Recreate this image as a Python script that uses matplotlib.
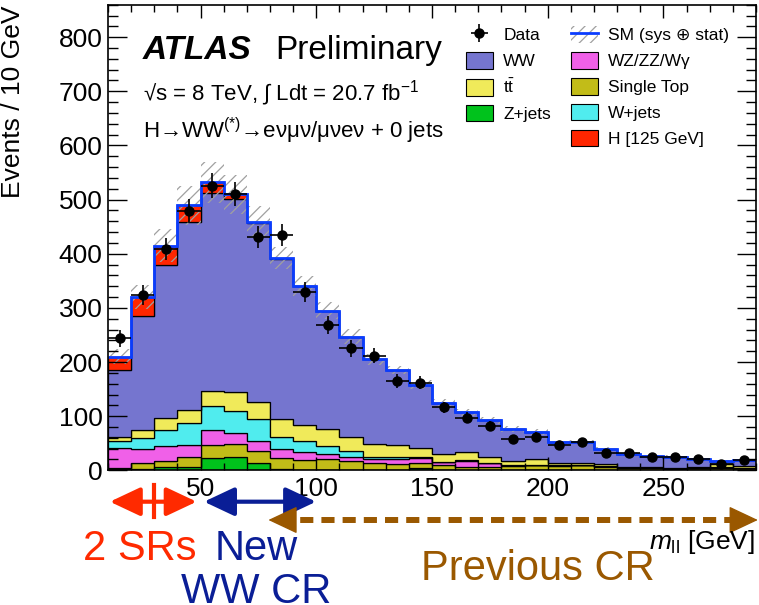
import numpy as np
import matplotlib
matplotlib.use("Agg")
import matplotlib.pyplot as plt
from matplotlib.patches import Patch
from matplotlib.lines import Line2D
from matplotlib.transforms import blended_transform_factory

plt.rcParams['font.family'] = ['Liberation Sans', 'DejaVu Sans']
plt.rcParams['mathtext.fontset'] = 'custom'
plt.rcParams['mathtext.rm'] = 'Liberation Sans'
plt.rcParams['mathtext.it'] = 'Liberation Sans:italic'
plt.rcParams['mathtext.bf'] = 'Liberation Sans:bold'
plt.rcParams['hatch.linewidth'] = 0.9

# m_ll binning: 10 GeV bins from 10 to 290 GeV
edges = np.arange(10, 300, 10)
centers = edges[:-1] + 5

# stacked expectations per bin (events / 10 GeV)
zjets = [2, 3, 6, 6, 22, 25, 14, 3, 1, 1, 0, 0, 0, 4, 1, 1, 0, 0, 0, 0, 0, 0, 0, 0, 0, 0, 0, 0]
single_top = [3, 10, 11, 19, 24, 23, 22, 19, 18, 19, 17, 14, 12, 9, 9, 6, 7, 8, 9, 8, 9, 7, 5, 5, 3, 4, 5, 4]
diboson = [37, 26, 27, 21, 29, 21, 19, 17, 15, 11, 8, 6, 8, 9, 5, 11, 6, 1, 1, 1, 1, 1, 1, 1, 1, 1, 1, 1]
wjets = [13, 20, 30, 41, 43, 41, 39, 22, 21, 14, 11, 5, 4, 3, 1, 1, 1, 0, 0, 0, 0, 0, 0, 0, 0, 0, 0, 0]
ttbar = [7, 15, 22, 25, 28, 34, 32, 33, 29, 31, 25, 23, 23, 17, 15, 14, 10, 8, 10, 4, 3, 4, 1, 1, 1, 2, 6, 3]
ww = [124, 211, 284, 347, 367, 357, 331, 297, 256, 219, 186, 157, 138, 116, 93, 74, 68, 59, 51, 39, 39, 28, 23, 19, 20, 13, 5, 11]
higgs = [24, 35, 35, 31, 19, 9, 2, 1, 0, 0, 0, 0, 0, 0, 0, 0, 0, 0, 0, 0, 0, 0, 0, 0, 0, 0, 0, 0]
sm_err = [14, 22, 31, 36, 38, 36, 30, 20, 18, 15, 14, 10, 8, 8, 7, 7, 6, 5, 5, 4, 4, 3, 3, 3, 3, 2, 2, 2]

data = [244, 324, 409, 479, 526, 510, 431, 435, 329, 268, 225, 212, 165, 162,
        116, 97, 82, 58, 62, 46, 53, 32, 32, 24, 24, 20, 11, 19]

TT = r't$\bar{\rm t}$'
DIB = 'WZ/ZZ/W\u03b3'
layers = [
    ('Z+jets', zjets, '#00c21c'),
    ('Single Top', single_top, '#c2bc18'),
    (DIB, diboson, '#f060e8'),
    ('W+jets', wjets, '#50ecee'),
    (TT, ttbar, '#f0ea5a'),
    ('WW', ww, '#7575cf'),
    ('H [125 GeV]', higgs, '#ff2600'),
]
SM_BLUE = '#0a3cff'

W, H = 759, 605


def px(x, y):
    """Pixel position (from top-left) to figure fraction."""
    return x / W, 1 - y / H


fig = plt.figure(figsize=(W / 100, H / 100), dpi=100)
ax = fig.add_axes([108 / W, 1 - 470.3 / H, 648 / W, 465.6 / H])

# stacked histograms
bottom = np.zeros(len(centers))
handles = {}
for name, vals, col in layers:
    top = bottom + np.array(vals, dtype=float)
    ax.stairs(top, edges, baseline=bottom, fill=True, facecolor=col,
              edgecolor='black', linewidth=0.9)
    handles[name] = Patch(facecolor=col, edgecolor='black', linewidth=0.8)
    bottom = top
total = bottom

# SM uncertainty band and total line
err = np.array(sm_err, dtype=float)
ax.stairs(total + err, edges, baseline=total - err, fill=True,
          facecolor='none', edgecolor='#a0a0a0', hatch='///', linewidth=0)
ax.stairs(total, edges, baseline=None, color=SM_BLUE, linewidth=2.0)

# data points with Poisson errors
data_arr = np.array(data, dtype=float)
eb = ax.errorbar(centers, data_arr, xerr=5, yerr=np.sqrt(data_arr), fmt='o',
                 color='black', ms=6.5, elinewidth=1.2, capsize=0, zorder=5)

ax.set_xlim(10, 290)
ax.set_ylim(0, 860)
ax.set_xticks([50, 100, 150, 200, 250])
ax.set_xticks(np.arange(10, 291, 10), minor=True)
ax.set_yticks(np.arange(0, 801, 100))
ax.set_yticks(np.arange(0, 861, 20), minor=True)
ax.tick_params(axis='both', which='both', direction='in', top=True, right=True,
               width=1.0, labelsize=19)
ax.tick_params(axis='y', which='major', length=14, pad=4)
ax.tick_params(axis='y', which='minor', length=7)
ax.tick_params(axis='x', which='major', length=9.5, pad=5)
ax.tick_params(axis='x', which='minor', length=5)
for s in ax.spines.values():
    s.set_linewidth(1.2)

fig.text(*px(13, 6), 'Events / 10 GeV', rotation=90, ha='center', va='top',
         fontsize=19)
fig.text(*px(755, 549), r'$m_{\rm ll}$ [GeV]', ha='right', va='baseline',
         fontsize=19)

# ATLAS label and run conditions
fig.text(*px(143, 59), 'ATLAS', fontsize=24, fontweight='bold', style='italic',
         va='baseline')
fig.text(*px(275, 59), 'Preliminary', fontsize=24, va='baseline')
fig.text(*px(143, 100), '\u221as = 8 TeV, \u222b Ldt = 20.7 fb$^{-1}$',
         fontsize=16, va='baseline')
fig.text(*px(143, 138),
         'H\u2192WW$^{(*)}$\u2192e\u03bd\u03bc\u03bd/\u03bc\u03bde\u03bd + 0 jets',
         fontsize=16, va='baseline')

# legend, two columns
sm_handle = (Patch(facecolor='white', edgecolor='#a0a0a0', hatch='///', linewidth=0),
             Line2D([], [], color=SM_BLUE, linewidth=2))
leg_kw = dict(frameon=False, fontsize=12.5, handlelength=1.55, handleheight=1.1,
              labelspacing=0.5, handletextpad=0.6, borderpad=0, borderaxespad=0,
              loc='upper left', bbox_transform=fig.transFigure)
leg1 = ax.legend([eb, handles['WW'], handles[TT], handles['Z+jets']],
                 ['Data', 'WW', TT, 'Z+jets'],
                 bbox_to_anchor=px(466, 26), **leg_kw)
ax.add_artist(leg1)
ax.legend([sm_handle, handles[DIB], handles['Single Top'],
           handles['W+jets'], handles['H [125 GeV]']],
          ['SM (sys \u2295 stat)', DIB, 'Single Top', 'W+jets', 'H [125 GeV]'],
          bbox_to_anchor=px(571, 26), **leg_kw)

# region annotations below the axis
blend = blended_transform_factory(ax.transData, fig.transFigure)
y_reg = 1 - 501.7 / H
y_prev = 1 - 520 / H
HEAD = 'head_length=0.85,head_width=0.4'


def region_arrow(x0, x1, y, color, lw):
    ax.annotate('', xy=(x1, y), xytext=(x0, y), xycoords=blend, textcoords=blend,
                annotation_clip=False,
                arrowprops=dict(arrowstyle='<|-|>,' + HEAD, mutation_scale=22,
                                lw=lw, color=color, shrinkA=0, shrinkB=0))


def arrow_head(x_from, x_to, y, color):
    ax.annotate('', xy=(x_to, y), xytext=(x_from, y), xycoords=blend,
                textcoords=blend, annotation_clip=False,
                arrowprops=dict(arrowstyle='-|>,' + HEAD, mutation_scale=22,
                                lw=1, color=color, shrinkA=0, shrinkB=0))


region_arrow(10.8, 48.3, y_reg, '#ff2a00', 3)
ax.plot([30, 30], [1 - 485 / H, 1 - 517 / H], color='#ff2a00', lw=3,
        transform=blend, clip_on=False)
region_arrow(51.5, 99.9, y_reg, '#0a1e96', 3)

# dashed range of the previous control region, solid heads at both ends
BROWN = '#9a5800'
ax.plot([84, 286], [y_prev, y_prev], color=BROWN, lw=4.3,
        linestyle=(0, (2.2, 1.35)), transform=blend, clip_on=False)
arrow_head(88, 79.3, y_prev, BROWN)
arrow_head(282, 290.8, y_prev, BROWN)

fig.text(*px(140, 560), '2 SRs', color='#ff2a00', fontsize=30, ha='center',
         va='baseline')
fig.text(*px(256, 560), 'New', color='#0a1e96', fontsize=30, ha='center',
         va='baseline')
fig.text(*px(256, 603), 'WW CR', color='#0a1e96', fontsize=30, ha='center',
         va='baseline')
fig.text(*px(538, 580), 'Previous CR', color=BROWN, fontsize=30, ha='center',
         va='baseline')

fig.savefig('out.png', dpi=100)
